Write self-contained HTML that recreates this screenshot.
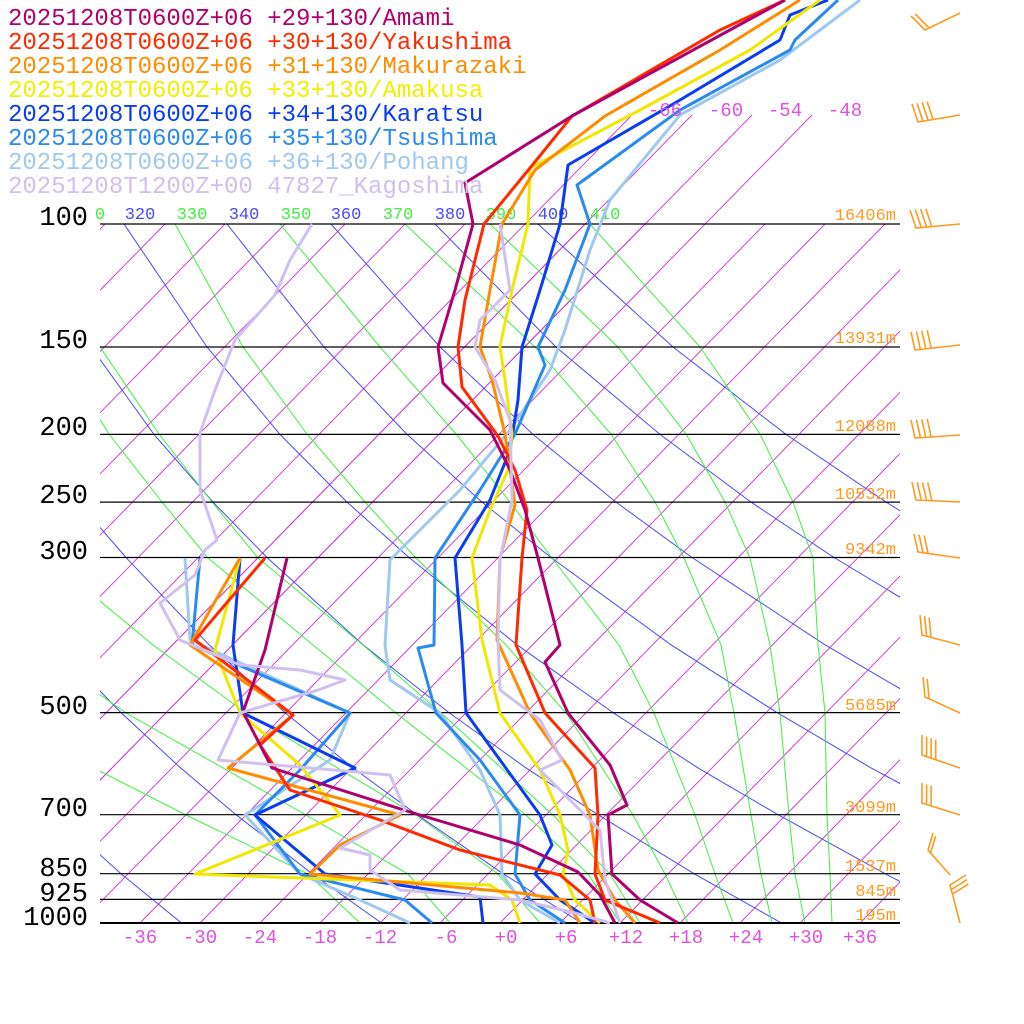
<!DOCTYPE html>
<html><head><meta charset="utf-8"><style>
html,body{margin:0;padding:0;background:#fff;}
svg{display:block;}
</style></head><body>
<svg width="1024" height="1024" xmlns="http://www.w3.org/2000/svg">
<defs>
<clipPath id="cp"><rect x="100" y="224" width="800" height="699"/></clipPath>
<clipPath id="cpi"><rect x="100" y="110" width="800" height="813"/></clipPath>
</defs>
<rect width="1024" height="1024" fill="#fff"/>
<g clip-path="url(#cp)" stroke="#cc33cc" stroke-width="0.9">
<line x1="-580" y1="923" x2="105" y2="224"/><line x1="-520" y1="923" x2="165" y2="224"/>
<line x1="-460" y1="923" x2="225" y2="224"/><line x1="-400" y1="923" x2="285" y2="224"/>
<line x1="-340" y1="923" x2="345" y2="224"/><line x1="-280" y1="923" x2="405" y2="224"/>
<line x1="-220" y1="923" x2="465" y2="224"/>
<line x1="-100" y1="923" x2="585" y2="224"/><line x1="-40" y1="923" x2="645" y2="224"/>
<line x1="80" y1="923" x2="765" y2="224"/><line x1="140" y1="923" x2="825" y2="224"/>
<line x1="200" y1="923" x2="885" y2="224"/><line x1="260" y1="923" x2="945" y2="224"/>
<line x1="320" y1="923" x2="1005" y2="224"/><line x1="380" y1="923" x2="1065" y2="224"/>
<line x1="440" y1="923" x2="1125" y2="224"/><line x1="500" y1="923" x2="1185" y2="224"/>
<line x1="560" y1="923" x2="1245" y2="224"/><line x1="620" y1="923" x2="1305" y2="224"/>
<line x1="680" y1="923" x2="1365" y2="224"/><line x1="740" y1="923" x2="1425" y2="224"/>
<line x1="800" y1="923" x2="1485" y2="224"/><line x1="860" y1="923" x2="1545" y2="224"/>
</g>
<g clip-path="url(#cpi)" stroke="#cc33cc" stroke-width="0.9">
<line x1="-160" y1="923" x2="632" y2="115"/><line x1="-100" y1="923" x2="692" y2="115"/>
<line x1="-40" y1="923" x2="752" y2="115"/><line x1="20" y1="923" x2="812" y2="115"/>
</g>
<g clip-path="url(#cp)" stroke="#4848ff" stroke-width="1" fill="none">
<polyline points="976,557.5 886,502.1 786,434.4 673,347 538,224"/>
<polyline points="979,644.8 834,557.5 751,502.1 660,434.4 556,347 435,224"/>
<polyline points="941,712.6 825,644.8 692,557.5 616,502.1 533,434.4 440,347 331,224"/>
<polyline points="958,814.7 871,767.9 777,712.6 671,644.8 551,557.5 482,502.1 407,434.4 324,347 227,224"/>
<polyline points="981,923 885,873.7 778,814.7 698,767.9 613,712.6 517,644.8 409,557.5 347,502.1 280,434.4 207,347 124,224"/>
<polyline points="781.5,923 694,873.7 598,814.7 526,767.9 449,712.6 363,644.8 267,557.5 213,502.1 154,434.4 91,347 20,224"/>
<polyline points="581.5,923 503,873.7 417,814.7 353,767.9 285,712.6 209,644.8 126,557.5 78,502.1 28,434.4 -25,347"/>
<polyline points="381.5,923 312,873.7 236,814.7 180.5,767.9 121,712.6 55,644.8 -16,557.5"/>
<polyline points="181.5,923 121,873.7 55.6,814.7 8.5,767.9 -43,712.6"/>
</g>
<g clip-path="url(#cp)" stroke="#40ee40" stroke-width="1" fill="none">
<polyline points="832,923 830,874 827,815 825,713 818,645 813,558 793,502 760,434 700,347 590,224"/>
<polyline points="805,923 795,874 789,815 780,713 770,645 750,558 725,502 686,434 618,347 490,224"/>
<polyline points="772,923 761,874 751,815 734,713 721,645 684,558 655,502 611,434 535,347 405,224"/>
<polyline points="733,923 715,874 695,815 654,713 619,645 552,558 510,502 456,434 380,347 280,224"/>
<polyline points="688,923 665,874 633,815 566,713 506,645 416,558 365,502 307,434 243,347 175,224"/>
<polyline points="640,923 610,874 553,815 441,713 363,645 258,558 212,502 159,434 100,347 40,224"/>
<polyline points="620,923 588,874 526,815 396,713 313,645 208,558 162,502 109,434 55,347"/>
<polyline points="540,923 498,874 416,815 246,713 153,645 48,558"/>
<polyline points="450,923 408,874 306,815 126,713 30,645"/>
<polyline points="360,923 308,874 186,815 -14,713"/>
</g>
<g stroke="#000" stroke-width="1.2">
<line x1="100" x2="900" y1="224" y2="224"/><line x1="100" x2="900" y1="347" y2="347"/>
<line x1="100" x2="900" y1="434.4" y2="434.4"/><line x1="100" x2="900" y1="502.1" y2="502.1"/>
<line x1="100" x2="900" y1="557.5" y2="557.5"/><line x1="100" x2="900" y1="712.6" y2="712.6"/>
<line x1="100" x2="900" y1="814.7" y2="814.7"/><line x1="100" x2="900" y1="873.7" y2="873.7"/>
<line x1="100" x2="900" y1="899.4" y2="899.4"/><line x1="100" x2="900" y1="923" y2="923" stroke-width="2"/>
</g>
<g font-family="Liberation Mono, monospace" font-size="17" text-anchor="middle">
<text x="100" y="219" fill="#40ee40">0</text><text x="140" y="219" fill="#4848ff">320</text>
<text x="192" y="219" fill="#40ee40">330</text><text x="244" y="219" fill="#4848ff">340</text>
<text x="296" y="219" fill="#40ee40">350</text><text x="346" y="219" fill="#4848ff">360</text>
<text x="398" y="219" fill="#40ee40">370</text><text x="450" y="219" fill="#4848ff">380</text>
<text x="501" y="219" fill="#40ee40">390</text><text x="553" y="219" fill="#4848ff">400</text>
<text x="605" y="219" fill="#40ee40">410</text>
</g>
<g fill="none" stroke-width="3" stroke-linejoin="round">
<polyline stroke="#a0c8f0" points="860,0 820,30 780,60 680,115 610,200 590,250 565,330 550,370 510,430 460,490 390,560 385,645 390,680 440,713 480,770 500,815 502,874 520,900 560,923"/>
<polyline stroke="#a0c8f0" points="185,558 190,640 350,713 330,760 245,815 300,874 360,900 410,923"/>
<polyline stroke="#2a8af0" points="838,0 795,40 790,50 680,110 577,185 590,224 565,290 538,347 545,365 515,434 480,490 435,558 434,645 418,648 436,713 480,760 520,815 515,874 530,900 565,923"/>
<polyline stroke="#2a8af0" points="200,558 192,645 350,713 300,770 255,815 300,874 405,900 432,923"/>
<polyline stroke="#0a3cf0" points="828,0 790,15 780,40 680,100 568,165 560,224 540,290 522,347 518,400 510,450 490,500 455,558 462,645 466,713 500,760 540,815 552,845 535,874 560,900 595,923"/>
<polyline stroke="#0a3cf0" points="240,558 233,645 243,713 355,768 255,815 325,874 480,897 483,923"/>
<polyline stroke="#f0e800" points="820,0 750,50 640,110 530,168 528,224 512,290 500,347 505,380 512,434 508,470 490,510 472,558 482,640 500,713 540,770 560,815 568,850 563,874 575,900 600,923"/>
<polyline stroke="#f0e800" points="240,558 215,650 240,713 300,765 340,815 195,874 490,885 512,900 520,923"/>
<polyline stroke="#ff8c00" points="800,0 720,50 605,116 535,170 502,224 490,290 480,347 492,380 505,434 515,505 500,558 497,640 530,713 570,770 590,815 598,870 615,900 635,923"/>
<polyline stroke="#ff8c00" points="240,558 190,645 293,715 228,768 400,815 340,845 310,874 520,893 565,900 580,923"/>
<polyline stroke="#ff2a00" points="785,0 720,30 572,116 530,168 484,224 465,300 458,347 462,387 498,436 515,470 527,510 522,558 516,645 545,713 595,768 598,815 595,874 605,900 660,923"/>
<polyline stroke="#ff2a00" points="265,558 195,640 293,715 260,745 290,790 380,820 460,850 560,875 590,900 595,923"/>
<polyline stroke="#b0006e" points="785,0 572,116 465,183 473,224 455,290 438,347 443,383 490,430 510,470 525,510 538,558 560,645 545,662 568,713 610,765 627,805 608,815 612,874 640,900 678,923"/>
<polyline stroke="#b0006e" points="287,558 265,650 243,712 272,768 410,812 520,845 578,872 600,895 615,923"/>
<polyline stroke="#d0c0f0" points="312,224 290,260 275,295 235,340 215,390 200,433 200,490 217,540 205,550 195,575 160,603 180,640 240,665 300,670 345,680 318,690 240,713 218,760 390,775 405,810 340,848 370,855 370,870 400,890 520,900 575,913 610,923"/>
<polyline stroke="#d0c0f0" points="500,224 510,290 480,320 475,347 495,380 510,420 512,500 500,560 498,640 500,690 540,720 562,760 540,770 600,830 605,880 620,923"/>
</g>
<g font-family="Liberation Mono, monospace" font-size="24">
<text x="8" y="25" fill="#b0006e">20251208T0600Z+06 +29+130/Amami</text>
<text x="8" y="49" fill="#ff2a00">20251208T0600Z+06 +30+130/Yakushima</text>
<text x="8" y="73" fill="#ff8c00">20251208T0600Z+06 +31+130/Makurazaki</text>
<text x="8" y="97" fill="#f0f000">20251208T0600Z+06 +33+130/Amakusa</text>
<text x="8" y="121" fill="#0a3cf0">20251208T0600Z+06 +34+130/Karatsu</text>
<text x="8" y="145" fill="#2a8af0">20251208T0600Z+06 +35+130/Tsushima</text>
<text x="8" y="169" fill="#a0c8f0">20251208T0600Z+06 +36+130/Pohang</text>
<text x="8" y="193" fill="#d0c0f0">20251208T1200Z+00 47827_Kagoshima</text>
</g>
<g font-family="Liberation Mono, monospace" font-size="27" fill="#000" text-anchor="end">
<text x="88" y="225">100</text><text x="88" y="348">150</text><text x="88" y="435">200</text>
<text x="88" y="503">250</text><text x="88" y="559">300</text><text x="88" y="714">500</text>
<text x="88" y="816">700</text><text x="88" y="876">850</text><text x="88" y="901">925</text>
<text x="88" y="925">1000</text>
</g>
<g font-family="Liberation Mono, monospace" font-size="19" fill="#e050e0" text-anchor="middle">
<text x="140" y="943">-36</text><text x="200" y="943">-30</text><text x="260" y="943">-24</text>
<text x="320" y="943">-18</text><text x="380" y="943">-12</text><text x="446" y="943">-6</text>
<text x="506" y="943">+0</text><text x="566" y="943">+6</text><text x="626" y="943">+12</text>
<text x="686" y="943">+18</text><text x="746" y="943">+24</text><text x="806" y="943">+30</text>
<text x="860" y="943">+36</text>
<text x="665" y="116">-66</text><text x="726" y="116">-60</text><text x="785" y="116">-54</text><text x="845" y="116">-48</text>
</g>
<g font-family="Liberation Mono, monospace" font-size="17" fill="#ff9a20" text-anchor="end">
<text x="896" y="220">16406m</text><text x="896" y="343">13931m</text><text x="896" y="431">12088m</text>
<text x="896" y="499">10532m</text><text x="896" y="554">9342m</text><text x="896" y="710">5685m</text>
<text x="896" y="812">3099m</text><text x="896" y="871">1537m</text><text x="896" y="896">845m</text>
<text x="896" y="920">195m</text>
</g>
<g stroke="#ff9a20" stroke-width="1.6" fill="none">
<path d="M960,13L925,30L911,16M929.2,28L915.2,14"/>
<path d="M960,115L918,122L912,104M923,121.2L917,103.2M928.1,120.3L922.1,102.3M933.1,119.5L927.1,101.5"/>
<path d="M960,224L916,228L910,210M921.3,227.5L915.3,209.5M926.6,227L920.6,209M931.8,226.6L925.8,208.6"/>
<path d="M960,345L915,350L911,332M920.4,349.4L916.4,331.4M925.8,348.8L921.8,330.8M931.2,348.2L927.2,330.2"/>
<path d="M960,435L915,438L911,420M920.4,437.6L916.4,419.6M925.8,437.3L921.8,419.3M931.2,436.9L927.2,418.9"/>
<path d="M960,502L916,500L912,482M921.3,500.2L917.3,482.2M926.6,500.5L922.6,482.5M931.8,500.7L927.8,482.7"/>
<path d="M960,558L918,552L914,534M923,552.7L919,534.7M928.1,553.4L924.1,535.4"/>
<path d="M960,645L922,635L920,615M926.6,636.2L924.6,616.2M931.1,637.4L929.1,617.4"/>
<path d="M960,713L925,697L923,677M929.2,698.9L927.2,678.9"/>
<path d="M960,768L922,755L922,735M926.6,756.6L926.6,736.6M931.1,758.1L931.1,738.1M935.7,759.7L935.7,739.7"/>
<path d="M960,815L922,803L922,783M926.6,804.4L926.6,784.4M931.1,805.9L931.1,785.9"/>
<path d="M950,875L928,850L933,833M930.6,853L935.6,836"/>
<path d="M960,923L950,885L966,875M951.2,889.6L967.2,879.6M952.4,894.1L968.4,884.1"/>
</g>
</svg>
</body></html>
